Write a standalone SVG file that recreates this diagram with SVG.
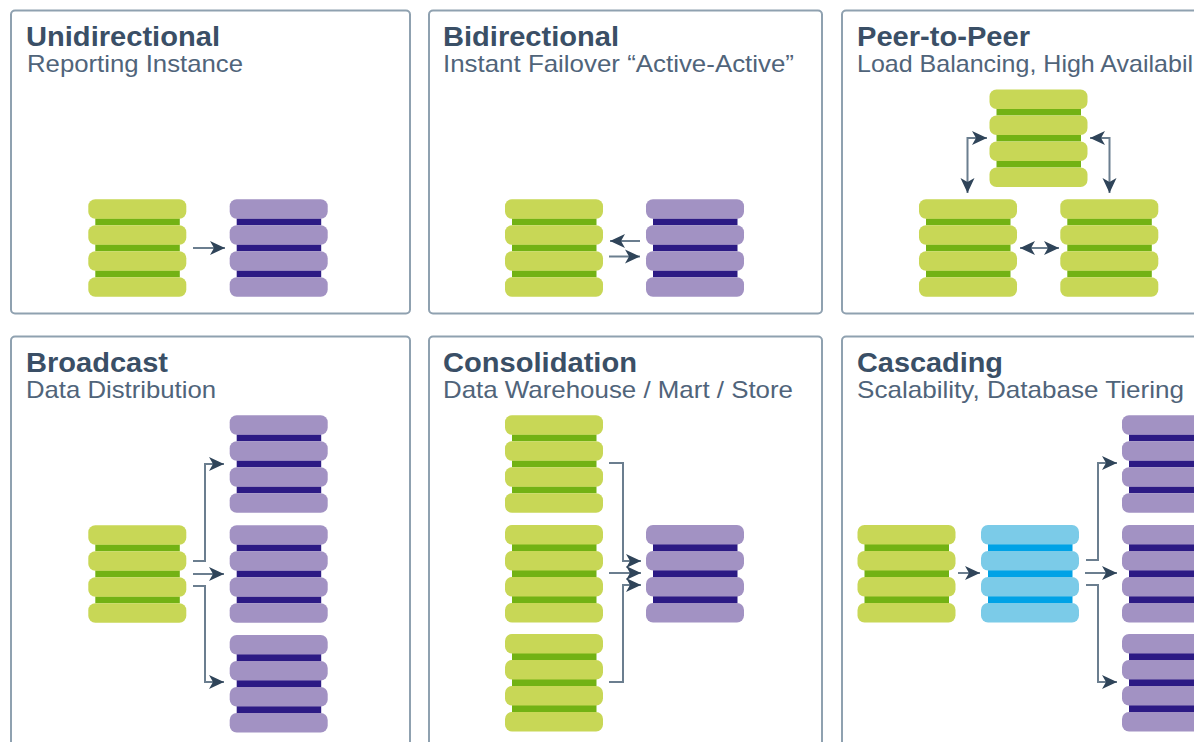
<svg xmlns="http://www.w3.org/2000/svg" width="1194" height="742" viewBox="0 0 1194 742">
<style>
.panel{fill:#fff;stroke:#8fa1b0;stroke-width:2}
.title{font:bold 27px "Liberation Sans",Arial,sans-serif;fill:#3a4f66}
.sub{font:24px "Liberation Sans",Arial,sans-serif;fill:#50647a}
.line{fill:none;stroke:#6b7e8f;stroke-width:2}
.gp{fill:#c8d756}.gb{fill:#72b214}
.pp{fill:#a292c3}.pb{fill:#2c1a84}
.bp{fill:#7bcbe8}.bb{fill:#00a2e6}
</style>
<defs>
<marker id="arrow" markerUnits="userSpaceOnUse" markerWidth="17" markerHeight="15" refX="16" refY="7.500" orient="auto-start-reverse" viewBox="0 0 17 15">
<path d="M1 0.500L16 7.500L1 14.500L5 7.500Z" fill="#2f4459"/>
</marker>
<g id="bars"><rect x="7" y="19" width="84.500" height="7"/><rect x="7" y="45" width="84.500" height="7"/><rect x="7" y="71" width="84.500" height="7"/></g>
<g id="pills"><rect width="98" height="19.500" rx="7"/><rect y="26" width="98" height="19.500" rx="7"/><rect y="52" width="98" height="19.500" rx="7"/><rect y="78" width="98" height="19.500" rx="7"/></g>
<g id="green"><use href="#bars" class="gb"/><use href="#pills" class="gp"/></g>
<g id="purple"><use href="#bars" class="pb"/><use href="#pills" class="pp"/></g>
<g id="blue"><use href="#bars" class="bb"/><use href="#pills" class="bp"/></g>
</defs>
<rect width="1194" height="742" fill="#fff"/>
<g id="panels">
<rect class="panel" x="11" y="10.500" width="399" height="303" rx="4"/>
<rect class="panel" x="429" y="10.500" width="393" height="303" rx="4"/>
<rect class="panel" x="842" y="10.500" width="380" height="303" rx="4"/>
<rect class="panel" x="11" y="336.500" width="399" height="430" rx="4"/>
<rect class="panel" x="429" y="336.500" width="393" height="430" rx="4"/>
<rect class="panel" x="842" y="336.500" width="380" height="430" rx="4"/>
</g>
<g id="labels">
<text class="title" x="26" y="45.500" textLength="194" lengthAdjust="spacingAndGlyphs">Unidirectional</text><text class="sub" x="27" y="71.500" textLength="216" lengthAdjust="spacingAndGlyphs">Reporting Instance</text>
<text class="title" x="443" y="45.500" textLength="176" lengthAdjust="spacingAndGlyphs">Bidirectional</text><text class="sub" x="443" y="71.500" textLength="351" lengthAdjust="spacingAndGlyphs">Instant Failover “Active-Active”</text>
<text class="title" x="857" y="45.500" textLength="173" lengthAdjust="spacingAndGlyphs">Peer-to-Peer</text><text class="sub" x="857" y="71.500" textLength="336" lengthAdjust="spacingAndGlyphs">Load Balancing, High Availabil</text>
<text class="title" x="26" y="371.500" textLength="142" lengthAdjust="spacingAndGlyphs">Broadcast</text><text class="sub" x="26" y="397.500" textLength="190" lengthAdjust="spacingAndGlyphs">Data Distribution</text>
<text class="title" x="443" y="371.500" textLength="194" lengthAdjust="spacingAndGlyphs">Consolidation</text><text class="sub" x="443" y="397.500" textLength="350" lengthAdjust="spacingAndGlyphs">Data Warehouse / Mart / Store</text>
<text class="title" x="857" y="371.500" textLength="146" lengthAdjust="spacingAndGlyphs">Cascading</text><text class="sub" x="857" y="397.500" textLength="327" lengthAdjust="spacingAndGlyphs">Scalability, Database Tiering</text>
</g>
<g id="uni-source"><use href="#green" x="88.300" y="199.300"/></g>
<g id="uni-target"><use href="#purple" x="229.700" y="199.300"/></g>
<g id="bi-a"><use href="#green" x="505" y="199.300"/></g>
<g id="bi-b"><use href="#purple" x="646" y="199.300"/></g>
<g id="p2p-top"><use href="#green" x="989.500" y="89.500"/></g>
<g id="p2p-left"><use href="#green" x="919" y="199.300"/></g>
<g id="p2p-right"><use href="#green" x="1060.300" y="199.300"/></g>
<g id="bc-source"><use href="#green" x="88.300" y="525.300"/></g>
<g id="bc-target-1"><use href="#purple" x="229.700" y="415.300"/></g>
<g id="bc-target-2"><use href="#purple" x="229.700" y="525.300"/></g>
<g id="bc-target-3"><use href="#purple" x="229.700" y="635"/></g>
<g id="con-source-1"><use href="#green" x="505" y="415.300"/></g>
<g id="con-source-2"><use href="#green" x="505" y="525"/></g>
<g id="con-source-3"><use href="#green" x="505" y="634"/></g>
<g id="con-target"><use href="#purple" x="646" y="525"/></g>
<g id="cas-source"><use href="#green" x="857.500" y="525"/></g>
<g id="cas-mid"><use href="#blue" x="981" y="525"/></g>
<g id="cas-target-1"><use href="#purple" x="1122" y="415.300"/></g>
<g id="cas-target-2"><use href="#purple" x="1122" y="525"/></g>
<g id="cas-target-3"><use href="#purple" x="1122" y="634"/></g>
<g id="connectors">
<path class="line" marker-end="url(#arrow)" d="M193 248H225"/>
<path class="line" marker-end="url(#arrow)" d="M640 241H610"/>
<path class="line" marker-end="url(#arrow)" d="M609 256.500H640"/>
<path class="line" marker-start="url(#arrow)" marker-end="url(#arrow)" d="M987 138H967.500V193"/>
<path class="line" marker-start="url(#arrow)" marker-end="url(#arrow)" d="M1090 138H1109.500V193"/>
<path class="line" marker-start="url(#arrow)" marker-end="url(#arrow)" d="M1020 248H1059"/>
<path class="line" marker-end="url(#arrow)" d="M193 561H205V464H224"/>
<path class="line" marker-end="url(#arrow)" d="M193 574H224"/>
<path class="line" marker-end="url(#arrow)" d="M193 586H205V682H224"/>
<path class="line" marker-end="url(#arrow)" d="M609 463H623V561H641"/>
<path class="line" marker-end="url(#arrow)" d="M609 573H641"/>
<path class="line" marker-end="url(#arrow)" d="M609 682H623V585H641"/>
<path class="line" marker-end="url(#arrow)" d="M958 573H980"/>
<path class="line" marker-end="url(#arrow)" d="M1086 560H1098V463H1117"/>
<path class="line" marker-end="url(#arrow)" d="M1085 573H1117"/>
<path class="line" marker-end="url(#arrow)" d="M1086 585H1098V682H1117"/>
</g>
</svg>
